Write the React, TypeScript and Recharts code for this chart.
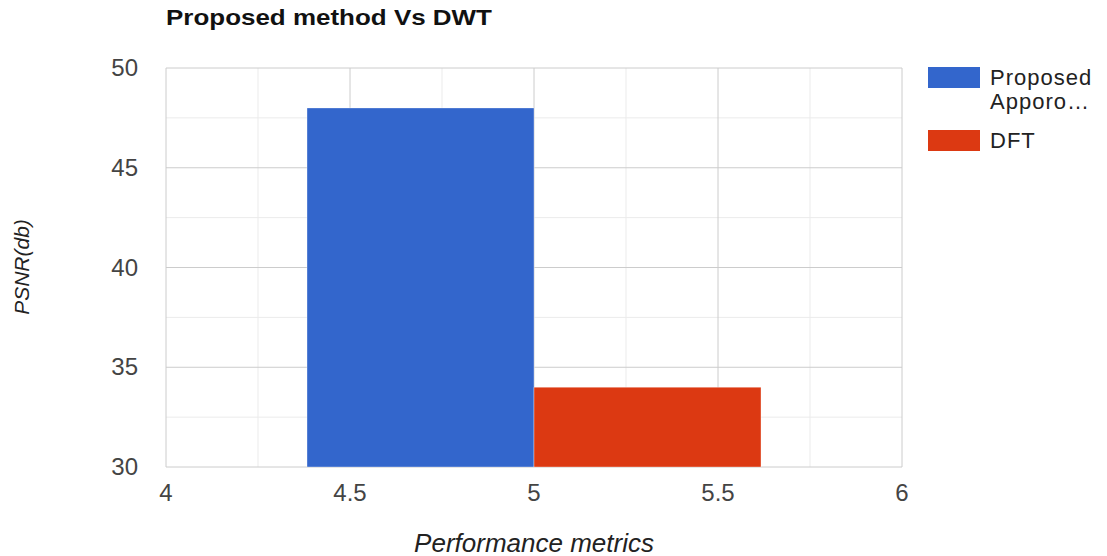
import React from 'react';
import { BarChart, Bar, XAxis, YAxis, CartesianGrid } from 'recharts';

const xDomain = [4, 6];
const yDomain = [30, 50];
const xTicks = [4, 4.5, 5, 5.5, 6];
const yTicks = [30, 35, 40, 45, 50];
const xMinor = [4.25, 4.75, 5.25, 5.75];
const yMinor = [32.5, 37.5, 42.5, 47.5];

const groupX = [5];
const proposedValues = [48];
const dftValues = [34];

const series = [
    { key: 'proposed', label: ['Proposed', 'Apporo…'], color: '#3366cc' },
    { key: 'dft', label: ['DFT'], color: '#dc3912' },
];

const data = groupX.map((x, i) => ({ x, proposed: proposedValues[i], dft: dftValues[i] }));

const FONT = '"Liberation Sans", Arial, sans-serif';

const XTick = ({ x, y, payload }: any) => (
    <text x={x} y={y + 26} textAnchor="middle" fontFamily={FONT} fontSize={24} fill="#444">{payload.value}</text>
);

const YTick = ({ x, y, payload }: any) => (
    <text x={x - 20} y={y + 8} textAnchor="end" fontFamily={FONT} fontSize={24} fill="#444">{payload.value}</text>
);

export default function App() {
    return (
        <div style={{ position: 'absolute', left: 0, top: 0, width: 1107, height: 556, background: '#fff' }}>
            <div style={{ position: 'absolute', left: 166, top: 5, fontFamily: FONT, fontWeight: 'bold', fontSize: 22, color: '#111', transform: 'scaleX(1.18)', transformOrigin: 'left top', whiteSpace: 'nowrap' }}>
                Proposed method Vs DWT
            </div>
            <BarChart width={1107} height={556} data={data} margin={{ top: 68, right: 205, bottom: 59, left: 140 }} barGap={0}>
                {/* minor gridlines */}
                <CartesianGrid
                    stroke="#ebebeb"
                    verticalCoordinatesGenerator={({ offset }: any) => xMinor.map(v => offset.left + (v - xDomain[0]) / (xDomain[1] - xDomain[0]) * offset.width)}
                    horizontalCoordinatesGenerator={({ offset }: any) => yMinor.map(v => offset.top + (1 - (v - yDomain[0]) / (yDomain[1] - yDomain[0])) * offset.height)}
                />
                <CartesianGrid stroke="#cccccc" />
                <XAxis type="number" dataKey="x" domain={xDomain} ticks={xTicks} height={30} axisLine={false} tickLine={false} tick={<XTick />} interval={0} allowDataOverflow />
                <YAxis type="number" domain={yDomain} ticks={yTicks} width={26} axisLine={false} tickLine={false} tick={<YTick />} interval={0} allowDataOverflow />
                {series.map(s => (
                    <Bar key={s.key} dataKey={s.key} fill={s.color} stroke="#ffffff" strokeOpacity={0.35} strokeWidth={1} barSize={227} isAnimationActive={false} />
                ))}
            </BarChart>
            <div style={{ position: 'absolute', left: 22, top: 267, transform: 'translate(-50%, -50%) rotate(-90deg)', whiteSpace: 'nowrap', fontFamily: FONT, fontStyle: 'italic', fontSize: 21, color: '#222' }}>
                PSNR(db)
            </div>
            <div style={{ position: 'absolute', left: 534, top: 543, transform: 'translate(-50%, -50%)', whiteSpace: 'nowrap', fontFamily: FONT, fontStyle: 'italic', fontSize: 26, color: '#222' }}>
                Performance metrics
            </div>
            <div style={{ position: 'absolute', left: 928, top: 66, fontFamily: FONT, fontSize: 22, letterSpacing: 1, color: '#222' }}>
                {series.map(s => (
                    <div key={s.key} style={{ display: 'flex', alignItems: 'flex-start', marginBottom: 15 }}>
                        <div style={{ width: 52, height: 21, background: s.color, marginTop: 1, flexShrink: 0 }} />
                        <div style={{ marginLeft: 10, lineHeight: '24px' }}>
                            {s.label.map(l => <div key={l}>{l}</div>)}
                        </div>
                    </div>
                ))}
            </div>
        </div>
    );
}
